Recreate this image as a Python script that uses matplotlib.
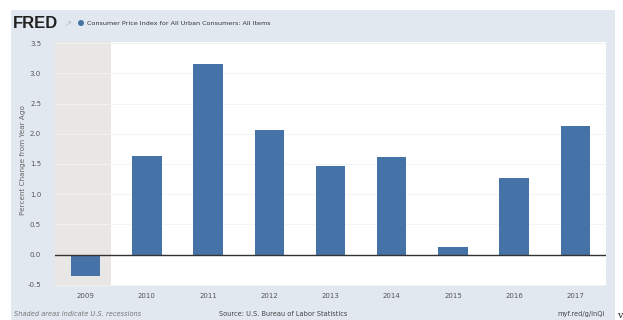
import matplotlib
matplotlib.use("Agg")
import matplotlib.pyplot as plt
from matplotlib.patches import Rectangle, Ellipse

years = ["2009", "2010", "2011", "2012", "2013", "2014", "2015", "2016", "2017"]
cpi_change = [-0.35, 1.64, 3.16, 2.07, 1.46, 1.62, 0.12, 1.26, 2.13]
y_ticks = [-0.5, 0.0, 0.5, 1.0, 1.5, 2.0, 2.5, 3.0, 3.5]
title = "Consumer Price Index for All Urban Consumers: All Items"
y_label = "Percent Change from Year Ago"

W, H = 623, 320
fig = plt.figure(figsize=(W / 100, H / 100), dpi=100)
fig.patch.set_facecolor("white")

def fx(px):
    return px / W

def fy(py):
    return 1 - py / H

# Light blue-grey FRED panel
panel = Rectangle((fx(11), fy(320)), fx(615) - fx(11), fy(10) - fy(320),
                  transform=fig.transFigure, facecolor="#e1e8f0",
                  edgecolor="none", zorder=-5)
fig.patches.append(panel)

ax = fig.add_axes([fx(55), fy(286), fx(606) - fx(55), fy(42) - fy(286)])
ax.set_zorder(2)
ax.set_facecolor("white")

x = list(range(len(years)))
ax.bar(x, cpi_change, width=0.48, color="#4572a7", zorder=3)

# Recession shading
ax.axvspan(-0.5, 0.42, color="#e9e7e5", zorder=1, lw=0)

ax.axhline(0, color="#333333", lw=1.0, zorder=4)
for t in y_ticks:
    if t != 0:
        ax.axhline(t, color="#f2f2f2", lw=0.6, zorder=2)

ax.set_xlim(-0.5, len(years) - 0.5)
ax.set_ylim(-0.52, 3.52)
ax.set_xticks(x)
ax.set_xticklabels(years, fontsize=5, color="#555555", family="Liberation Sans Narrow")
ax.set_yticks(y_ticks)
ax.set_yticklabels([f"{t:.1f}" for t in y_ticks], fontsize=5, color="#555555",
                   family="Liberation Sans Narrow")
ax.tick_params(axis="x", length=0, pad=5)
ax.tick_params(axis="y", length=0, pad=10)
for s in ax.spines.values():
    s.set_visible(False)

fig.text(fx(23), fy(160), y_label, rotation=90, ha="center", va="center",
         fontsize=5.2, color="#666666")

# Header
fig.text(fx(13), fy(24), "FRED", fontsize=12, fontweight="bold", color="#222222",
         ha="left", va="center", family="Liberation Sans")
fig.text(fx(65), fy(24), "\u2197", fontsize=6, color="#b0b8c0", ha="left", va="center")
fig.patches.append(Ellipse((fx(81), fy(23)), fx(6), 6 / H, transform=fig.transFigure,
                           facecolor="#4572a7", edgecolor="none", zorder=5))
fig.text(fx(87), fy(23.5), title, fontsize=4.6, color="#333333", ha="left", va="center")

# Footer
fig.text(fx(14), fy(314), "Shaded areas indicate U.S. recessions", fontsize=4.8,
         style="italic", color="#777777", ha="left", va="center")
fig.text(fx(283), fy(314), "Source: U.S. Bureau of Labor Statistics", fontsize=4.8,
         color="#444444", ha="center", va="center")
fig.text(fx(605), fy(314), "myf.red/g/lnQi", fontsize=4.8, color="#444444",
         ha="right", va="center")
fig.text(fx(617), fy(315), "v", fontsize=7, color="#222222", ha="left", va="center",
         family="DejaVu Serif")

fig.savefig("out.png", dpi=100, facecolor="white")
